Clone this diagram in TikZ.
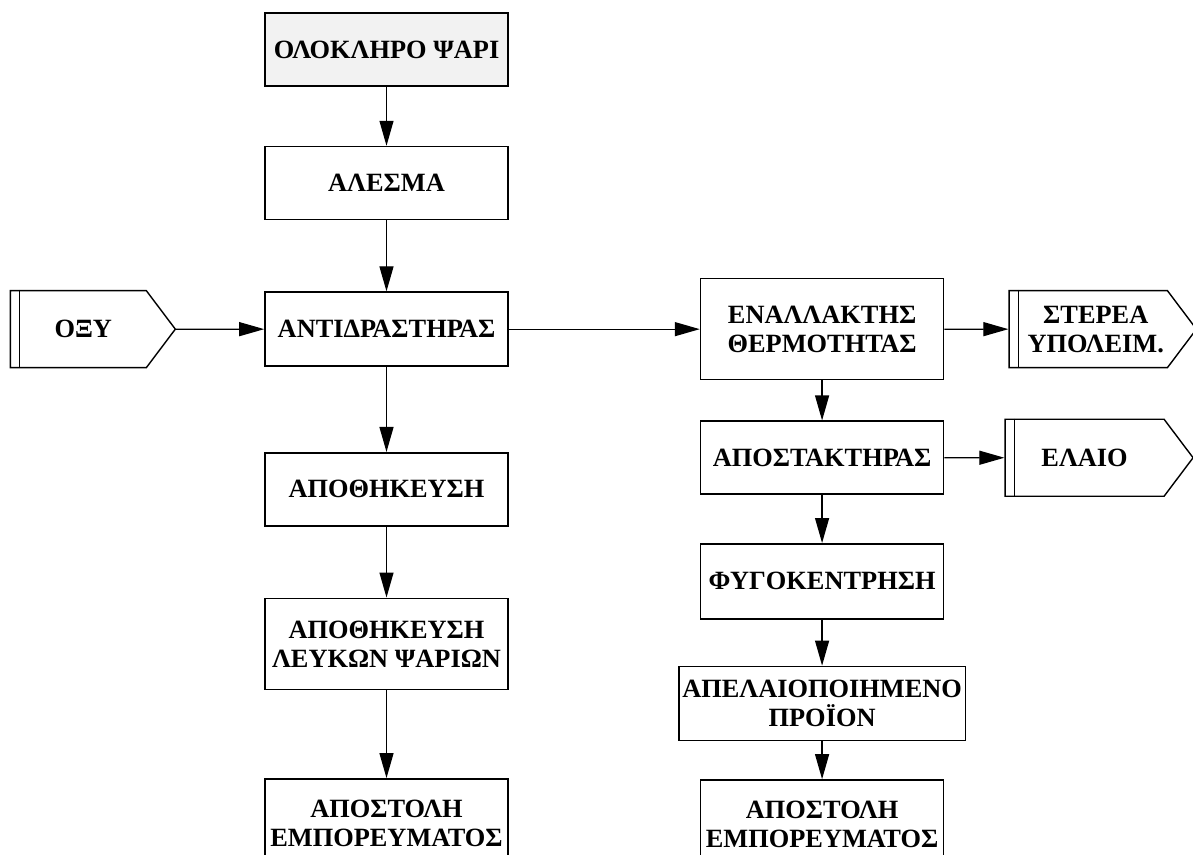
\documentclass[tikz,border=0pt]{standalone}
\usepackage{fontspec}
\setmainfont{Liberation Serif}
\usetikzlibrary{arrows.meta,shapes.symbols,positioning}

\begin{document}
\begin{tikzpicture}[
    node distance=1.4cm and 1.8cm,
    font=\fontsize{15}{16.5}\selectfont\bfseries,
    base/.style={draw, rectangle, line width=0.9pt, align=center,
                 minimum width=4.86cm, minimum height=1.46cm, inner sep=2pt},
    proc/.style={base},
    rawnode/.style={base, fill=gray!10},
    ionode/.style={draw, signal, signal to=east, signal pointer angle=106,
                   line width=0.8pt, align=center, inner sep=2pt,
                   minimum height=1.54cm},
    arr/.style={-{Triangle[length=0.5cm,width=0.28cm]}, line width=0.7pt},
  ]
    \useasboundingbox (0,0) rectangle (23.86,-17.1);
    % ---- Left column: top to bottom ----
    \node[rawnode] (A) at (7.73,-0.99) {ΟΛΟΚΛΗΡΟ ΨΑΡΙ};
    \node[proc, below=1.18cm of A] (B) {ΑΛΕΣΜΑ};
    \node[proc, below=1.42cm of B, minimum height=1.48cm] (C) {ΑΝΤΙΔΡΑΣΤΗΡΑΣ};
    \node[proc, below=1.70cm of C] (D) {ΑΠΟΘΗΚΕΥΣΗ};
    \node[proc, below=1.42cm of D, minimum height=1.82cm] (E) {ΑΠΟΘΗΚΕΥΣΗ\\ΛΕΥΚΩΝ ΨΑΡΙΩΝ};
    \node[proc, below=1.76cm of E, minimum height=1.76cm] (F) {ΑΠΟΣΤΟΛΗ\\ΕΜΠΟΡΕΥΜΑΤΟΣ};

    % ---- Acid feed ----
    \node[ionode, left=1.76cm of C, minimum width=3.3cm] (O) {\hspace*{0.2cm}ΟΞΥ};

    % ---- Right column: top to bottom ----
    \node[proc, right=3.82cm of C, minimum height=2.02cm] (G) {ΕΝΑΛΛΑΚΤΗΣ\\ΘΕΡΜΟΤΗΤΑΣ};
    \node[proc, below=0.80cm of G] (H) {ΑΠΟΣΤΑΚΤΗΡΑΣ};
    \node[proc, below=0.96cm of H, minimum height=1.5cm] (I) {ΦΥΓΟΚΕΝΤΡΗΣΗ};
    \node[proc, below=0.92cm of I, minimum width=5.64cm, minimum height=1.48cm] (J) {ΑΠΕΛΑΙΟΠΟΙΗΜΕΝΟ\\ΠΡΟΪΟΝ};
    \node[proc, below=0.76cm of J, minimum height=1.76cm] (K) {ΑΠΟΣΤΟΛΗ\\ΕΜΠΟΡΕΥΜΑΤΟΣ};

    % ---- Outputs ----
    \node[ionode, right=1.28cm of G, minimum width=3.68cm] (S)
      {\hspace*{0.3cm}ΣΤΕΡΕΑ\\\hspace*{0.3cm}ΥΠΟΛΕΙΜ.};
    \node[ionode, right=1.2cm of H, minimum width=3.76cm] (L) {ΕΛΑΙΟ};
    \foreach \n in {O,S,L}
      \draw[line width=0.8pt] ([xshift=0.2cm]\n.north west) -- ([xshift=0.2cm]\n.south west);

    % ---- Left column arrows ----
    \draw[arr] (A)--(B); \draw[arr] (B)--(C);
    \draw[arr] (C)--(D); \draw[arr] (D)--(E);
    \draw[arr] (E)--(F);
    \draw[arr] (O)--(C);
    % ---- Connector between columns ----
    \draw[arr] (C)--(G);
    % ---- Right column arrows ----
    \draw[arr] (G)--(H); \draw[arr] (H)--(I);
    \draw[arr] (I)--(J); \draw[arr] (J)--(K);
    \draw[arr] (G)--(S); \draw[arr] (H)--(L);
  \end{tikzpicture}
\end{document}
